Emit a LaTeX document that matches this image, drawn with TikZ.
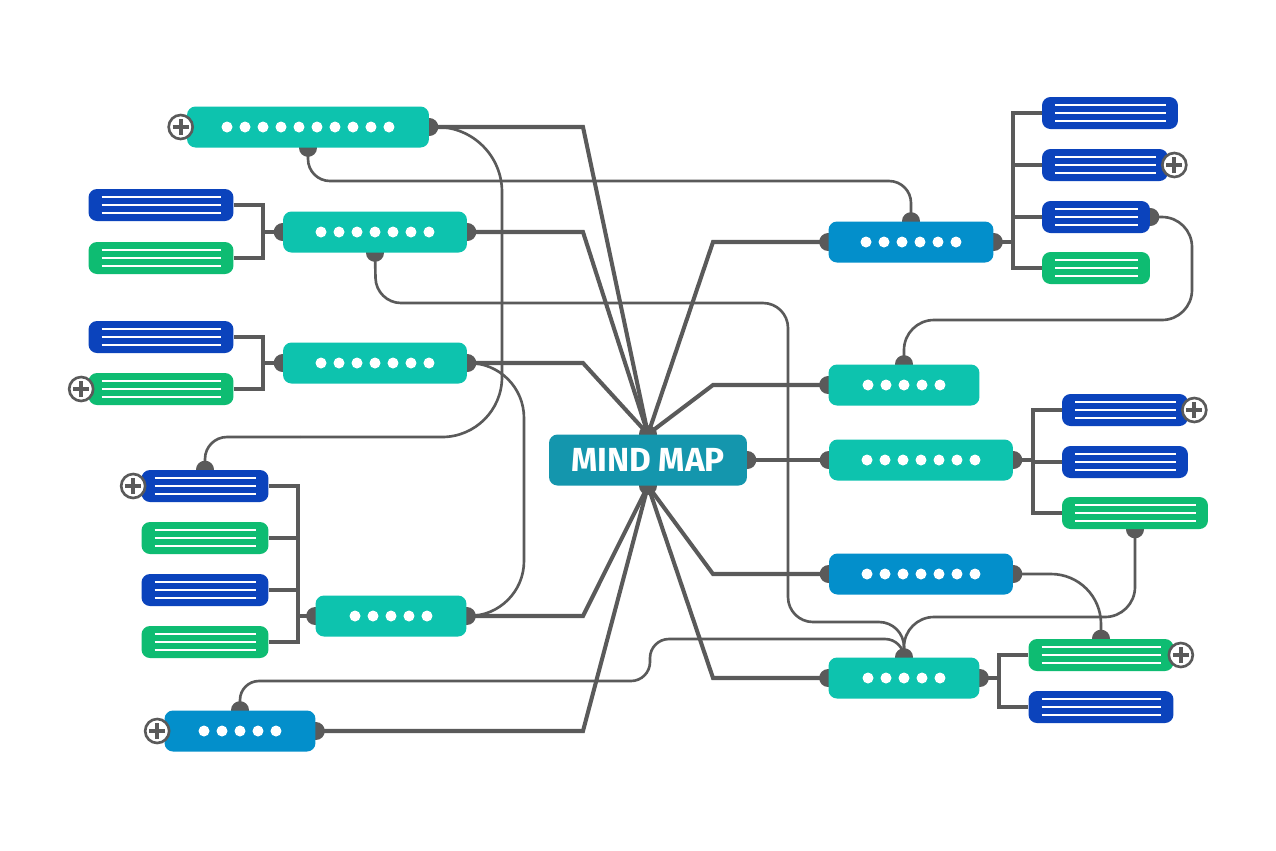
\documentclass[tikz,border=0pt]{standalone}
\usepackage{xcolor}
\usepackage{fontspec}
\setsansfont{Fira Sans}
\usepackage{tikz}
\usetikzlibrary{backgrounds}

\definecolor{topicteal}{HTML}{0DC3AE}
\definecolor{topicblue}{HTML}{038FCB}
\definecolor{hubteal}{HTML}{1496AD}
\definecolor{leafblue}{HTML}{0B43BC}
\definecolor{leafgreen}{HTML}{0EBC72}
\definecolor{wire}{HTML}{5A5A5A}

\begin{document}
\begin{tikzpicture}[x=0.02cm, y=-0.02cm]
    % Define styles
    \tikzstyle{topic} = [rectangle, rounded corners=0.17cm, minimum height=0.82cm, inner sep=0pt, fill=topicteal]
    \tikzstyle{bluetopic} = [topic, fill=topicblue]
    \tikzstyle{hub} = [rectangle, rounded corners=0.17cm, minimum width=3.96cm, minimum height=1.02cm, inner sep=0pt, fill=hubteal, text=white, font=\sffamily\bfseries\fontsize{19}{21}\selectfont]
    \tikzstyle{leaf} = [rectangle, rounded corners=0.17cm, minimum height=0.64cm, inner sep=0pt, fill=leafblue, path picture={\foreach \dy in {-0.16,0,0.16} \draw[white, line width=1.5pt] ([xshift=0.26cm, yshift=\dy cm]path picture bounding box.west) -- ([xshift=-0.24cm, yshift=\dy cm]path picture bounding box.east);}]
    \tikzstyle{greenleaf} = [leaf, fill=leafgreen]
    \tikzstyle{plus} = [circle, draw=wire, fill=white, line width=1.5pt, minimum size=0.48cm, inner sep=0pt, path picture={\draw[wire, line width=2.2pt] ([xshift=-0.16cm]path picture bounding box.center) -- ([xshift=0.16cm]path picture bounding box.center) ([yshift=-0.16cm]path picture bounding box.center) -- ([yshift=0.16cm]path picture bounding box.center);}]
    \tikzstyle{spoke} = [draw=wire, line width=2.3pt]
    \tikzstyle{bracket} = [draw=wire, line width=2.3pt]
    \tikzstyle{link} = [draw=wire, line width=1.5pt]
    \tikzset{pips/.style={path picture={\foreach \k in {1,...,#1} \fill[white] ([xshift={(\k-(#1+1)/2)*0.36cm}]path picture bounding box.center) circle (0.11cm);}}}

    \useasboundingbox (0,0) rectangle (1276,850);

    % Nodes
    \node[hub] (map) at (648,460) {MIND MAP};

    \node[topic, pips=10, minimum width=4.84cm] (left1) at (308,127) {};
    \node[topic, pips=7, minimum width=3.68cm] (left2) at (375,232) {};
    \node[topic, pips=7, minimum width=3.68cm] (left3) at (375,363) {};
    \node[topic, pips=5, minimum width=3.02cm] (left4) at (391,616) {};
    \node[bluetopic, pips=5, minimum width=3.02cm] (left5) at (240,731) {};

    \node[bluetopic, pips=6, minimum width=3.3cm] (right1) at (911,242) {};
    \node[topic, pips=5, minimum width=3.02cm] (right2) at (904,385) {};
    \node[topic, pips=7, minimum width=3.68cm] (right3) at (921,460) {};
    \node[bluetopic, pips=7, minimum width=3.68cm] (right4) at (921,574) {};
    \node[topic, pips=5, minimum width=3.02cm] (right5) at (904,678) {};

    \node[leaf, minimum width=2.9cm] (left2a) at (161,205) {};
    \node[greenleaf, minimum width=2.9cm] (left2b) at (161,258) {};
    \node[leaf, minimum width=2.9cm] (left3a) at (161,337) {};
    \node[greenleaf, minimum width=2.9cm] (left3b) at (161,389) {};
    \node[leaf, minimum width=2.54cm] (left4a) at (205,486) {};
    \node[greenleaf, minimum width=2.54cm] (left4b) at (205,538) {};
    \node[leaf, minimum width=2.54cm] (left4c) at (205,590) {};
    \node[greenleaf, minimum width=2.54cm] (left4d) at (205,642) {};

    \node[leaf, minimum width=2.72cm] (right1a) at (1110,113) {};
    \node[leaf, minimum width=2.52cm] (right1b) at (1105,165) {};
    \node[leaf, minimum width=2.16cm] (right1c) at (1096,217) {};
    \node[greenleaf, minimum width=2.16cm] (right1d) at (1096,268) {};
    \node[leaf, minimum width=2.52cm] (right3a) at (1125,410) {};
    \node[leaf, minimum width=2.52cm] (right3b) at (1125,462) {};
    \node[greenleaf, minimum width=2.92cm] (right3c) at (1135,513) {};
    \node[greenleaf, minimum width=2.9cm] (right5a) at (1101,655) {};
    \node[leaf, minimum width=2.9cm] (right5b) at (1101,707) {};

    \coordinate (left2fork) at (263,232);
    \coordinate (left3fork) at (263,363);
    \coordinate (left4fork) at (298,616);
    \coordinate (right1fork) at (1013,242);
    \coordinate (right3fork) at (1033,460);
    \coordinate (right5fork) at (999,678);

    \begin{scope}[on background layer]
        \fill[white] (0,0) rectangle (1276,850);

        % Spokes
        \draw[spoke] (map.north) -- (583,127) -- (left1.east);
        \draw[spoke] (map.north) -- (583,232) -- (left2.east);
        \draw[spoke] (map.north) -- (583,363) -- (left3.east);
        \draw[spoke] (map.south) -- (583,616) -- (left4.east);
        \draw[spoke] (map.south) -- (583,731) -- (left5.east);
        \draw[spoke] (map.north) -- (713,242) -- (right1.west);
        \draw[spoke] (map.north) -- (713,385) -- (right2.west);
        \draw[spoke] (map.east) -- (right3.west);
        \draw[spoke] (map.south) -- (713,574) -- (right4.west);
        \draw[spoke] (map.south) -- (713,678) -- (right5.west);

        % Brackets
        \foreach \n in {left2a, left2b} \draw[bracket] (\n.east) -| (left2fork);
        \foreach \n in {left3a, left3b} \draw[bracket] (\n.east) -| (left3fork);
        \foreach \n in {left4a, left4b, left4c, left4d} \draw[bracket] (\n.east) -| (left4fork);
        \foreach \n in {right1a, right1b, right1c, right1d} \draw[bracket] (\n.west) -| (right1fork);
        \foreach \n in {right3a, right3b, right3c} \draw[bracket] (\n.west) -| (right3fork);
        \foreach \n in {right5a, right5b} \draw[bracket] (\n.west) -| (right5fork);
        \draw[bracket] (left2fork) -- (left2.west);
        \draw[bracket] (left3fork) -- (left3.west);
        \draw[bracket] (left4fork) -- (left4.west);
        \draw[bracket] (right1.east) -- (right1fork);
        \draw[bracket] (right3.east) -- (right3fork);
        \draw[bracket] (right5.east) -- (right5fork);

        % Links
        \draw[link, rounded corners=0.44cm] (left1.south) -- (308,181) -- (911,181) -- (right1.north);
        \draw[link, rounded corners=1.3cm] (left1.east) -- (502,127) -- (502,300);
        \draw[link, rounded corners=1.2cm] (502,300) -- (502,437) -- (300,437);
        \draw[link, rounded corners=0.44cm] (300,437) -- (205,437) -- (left4a.north);
        \draw[link, rounded corners=0.5cm] (left2.south) -- (376,303) -- (788,303) -- (788,622) -- (904,622) -- (right5.north);
        \draw[link, rounded corners=1.1cm] (left3.east) -- (524,363) -- (524,616) -- (left4.east);
        \draw[link, rounded corners=0.38cm] (left5.north) -- (240,681) -- (650,681) -- (650,639) -- (904,639) -- (right5.north);
        \draw[link, rounded corners=0.6cm] (right1c.east) -- (1192,217) -- (1192,320) -- (904,320) -- (right2.north);
        \draw[link, rounded corners=0.6cm] (right3c.south) -- (1135,617) -- (904,617) -- (right5.north);
        \draw[link, rounded corners=1cm] (right4.east) -- (1101,574) -- (right5a.north);

        % Plugs
        \foreach \p in {map.north, map.south, map.east, left1.east, left1.south, left2.west, left2.east, left2.south, left3.west, left3.east, left4.west, left4.east, left4a.north, left5.north, left5.east, right1.west, right1.east, right1.north, right1c.east, right2.west, right2.north, right3.west, right3.east, right3c.south, right4.west, right4.east, right5.west, right5.east, right5.north, right5a.north}
            \fill[wire] (\p) circle (0.18cm);
    \end{scope}

    % Expand marks
    \node[plus] (plus1) at ([xshift=-0.12cm]left1.west) {};
    \node[plus] (plus2) at ([xshift=-0.14cm]left3b.west) {};
    \node[plus] (plus3) at ([xshift=-0.16cm]left4a.west) {};
    \node[plus] (plus4) at ([xshift=-0.14cm]left5.west) {};
    \node[plus] (plus5) at ([xshift=0.12cm]right1b.east) {};
    \node[plus] (plus6) at ([xshift=0.12cm]right3a.east) {};
    \node[plus] (plus7) at ([xshift=0.14cm]right5a.east) {};
\end{tikzpicture}
\end{document}
